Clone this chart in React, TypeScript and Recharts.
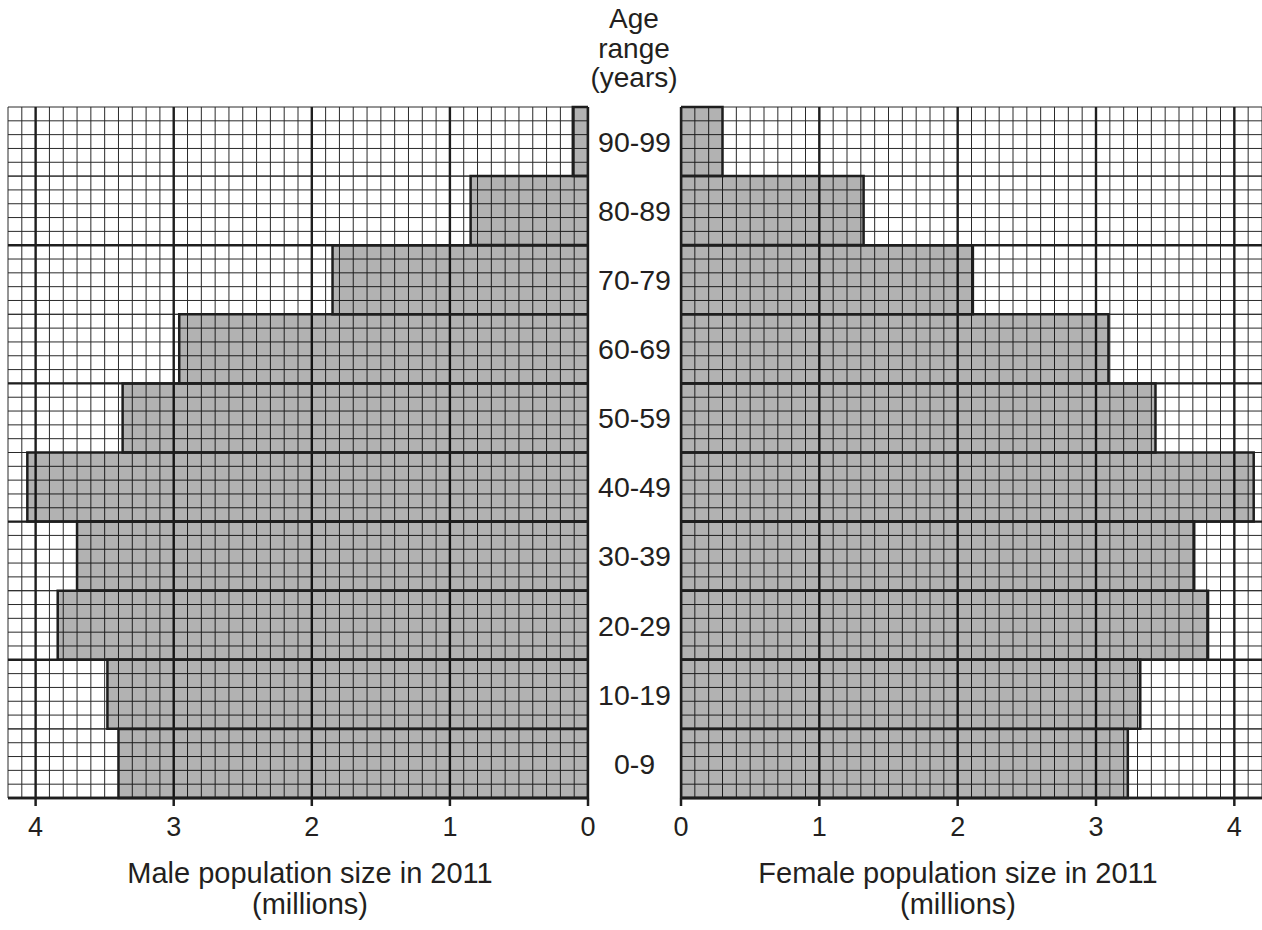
import React from "react";
import { BarChart, Bar, XAxis, YAxis, CartesianGrid } from "recharts";

const ages = ["0-9", "10-19", "20-29", "30-39", "40-49", "50-59", "60-69", "70-79", "80-89", "90-99"];
const male = [3.4, 3.48, 3.84, 3.7, 4.06, 3.37, 2.96, 1.85, 0.85, 0.11];
const female = [3.23, 3.32, 3.81, 3.71, 4.14, 3.43, 3.09, 2.11, 1.32, 0.3];
const valueTicks = [0, 1, 2, 3, 4];
const X_MAX = 4.2;

// graph paper: 0.1 million across, 1/5 of an age band down
const minorX = Array.from({ length: 43 }, (_, i) => i / 10);
const SUB = 5;

const rows = ages.map((age, i) => ({ age, male: male[i], female: female[i] }));

const FONT = '"Liberation Sans", Arial, Helvetica, sans-serif';
const INK = "#231f20";
const LINE = "#1e1e1e";
const HEIGHT = 930;
const TOP = 107;
const AXIS_H = 132;

function AgeTick(props: any) {
  const { x, y, payload } = props;
  return (
    <text x={x + 46.5} y={y} dy="0.36em" textAnchor="middle" fontSize={28.5} fill={INK} fontFamily={FONT}>
      {payload.value}
    </text>
  );
}

// recharts 3 may hand over a d3 scale or a wrapper with .map()
function asFn(scale: any): ((v: any) => number) | null {
  if (typeof scale === "function") return scale;
  if (scale && typeof scale.map === "function") return (v) => scale.map(v);
  return null;
}

function paperRows(yAxis: any, offset: any, major: boolean) {
  const out: number[] = [];
  const f = asFn(yAxis && yAxis.scale);
  const bwFn = yAxis && yAxis.scale && yAxis.scale.bandwidth;
  if (f && typeof bwFn === "function") {
    const bw = bwFn.call(yAxis.scale);
    ages.forEach((a, i) => {
      const y0 = f(a);
      if (major) {
        if (i % 2 === 0) out.push(y0 + bw);
      } else {
        for (let k = 0; k <= SUB; k++) out.push(y0 + (k * bw) / SUB);
      }
    });
    if (out.every((v) => Number.isFinite(v))) return out;
    out.length = 0;
  }
  const n = ages.length * SUB;
  for (let k = 0; k <= n; k++) {
    if (!major || (k % (2 * SUB) === 0 && k > 0)) out.push(offset.top + (k * offset.height) / n);
  }
  return out;
}

function paperCols(xAxis: any, offset: any, values: number[], reversed: boolean) {
  const f = asFn(xAxis && xAxis.scale);
  if (f) {
    const pts = values.map((v) => f(v));
    if (pts.every((v) => Number.isFinite(v))) return pts;
  }
  return values.map((v) => offset.left + ((reversed ? X_MAX - v : v) / X_MAX) * offset.width);
}

function Panel({
  dataKey,
  reversed,
  width,
  marginLeft,
  showAges,
}: {
  dataKey: "male" | "female";
  reversed: boolean;
  width: number;
  marginLeft: number;
  showAges: boolean;
}) {
  return (
    <BarChart
      width={width}
      height={HEIGHT}
      data={rows}
      layout="vertical"
      barCategoryGap={0}
      margin={{ top: TOP, right: 0, left: marginLeft, bottom: 0 }}
    >
      <CartesianGrid
        stroke="#2a2a2a"
        strokeWidth={1}
        verticalCoordinatesGenerator={({ xAxis, offset }: any) => paperCols(xAxis, offset, minorX, reversed)}
        horizontalCoordinatesGenerator={({ yAxis, offset }: any) => paperRows(yAxis, offset, false)}
      />
      <CartesianGrid
        stroke={LINE}
        strokeWidth={2.4}
        verticalCoordinatesGenerator={({ xAxis, offset }: any) => paperCols(xAxis, offset, valueTicks, reversed)}
        horizontalCoordinatesGenerator={({ yAxis, offset }: any) => paperRows(yAxis, offset, true)}
      />
      <XAxis
        type="number"
        domain={[0, X_MAX]}
        ticks={valueTicks}
        interval={0}
        reversed={reversed}
        allowDataOverflow
        height={AXIS_H}
        axisLine={{ stroke: LINE, strokeWidth: 2.5 }}
        tickLine={{ stroke: LINE, strokeWidth: 2.5 }}
        tickSize={8}
        tickMargin={11}
        tick={{ fontSize: 27, fill: INK, fontFamily: FONT }}
      />
      <YAxis
        type="category"
        dataKey="age"
        reversed
        orientation="right"
        width={93}
        hide={!showAges}
        axisLine={false}
        tickLine={false}
        tickSize={0}
        tickMargin={0}
        interval={0}
        tick={<AgeTick />}
      />
      <Bar
        dataKey={dataKey}
        fill="#000"
        fillOpacity={0.3}
        stroke={LINE}
        strokeWidth={2.5}
        isAnimationActive={false}
      />
    </BarChart>
  );
}

const textStyle: React.CSSProperties = {
  position: "absolute",
  fontFamily: FONT,
  color: INK,
  textAlign: "center",
  whiteSpace: "nowrap",
};

export default function App() {
  return (
    <div style={{ position: "absolute", left: 0, top: 0, width: 1262, height: HEIGHT, background: "#fff", overflow: "hidden" }}>
      <div style={{ position: "absolute", left: 0, top: 0 }}>
        <Panel dataKey="male" reversed width={681} marginLeft={8} showAges />
      </div>
      <div style={{ position: "absolute", left: 651, top: 0 }}>
        <Panel dataKey="female" reversed={false} width={611} marginLeft={30} showAges={false} />
      </div>
      <div style={{ ...textStyle, left: 554, width: 160, top: 4, fontSize: 28, lineHeight: "29.5px" }}>
        Age
        <br />
        range
        <br />
        (years)
      </div>
      <div style={{ ...textStyle, left: 60, width: 500, top: 858, fontSize: 29, lineHeight: "31px" }}>
        Male population size in 2011
        <br />
        (millions)
      </div>
      <div style={{ ...textStyle, left: 708, width: 500, top: 858, fontSize: 29, lineHeight: "31px" }}>
        Female population size in 2011
        <br />
        (millions)
      </div>
    </div>
  );
}
